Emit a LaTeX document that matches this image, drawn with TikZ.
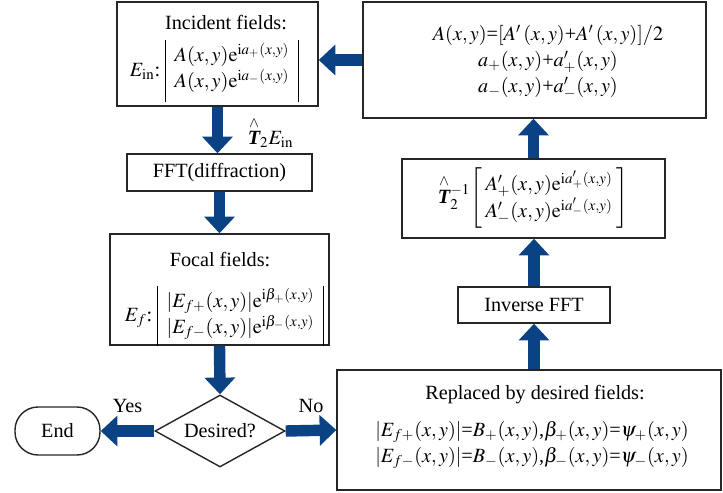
\documentclass[tikz,border=0pt]{standalone}
\usepackage{amsmath}
\usepackage{mathptmx}
\usepackage{fontspec}
\setmainfont{Liberation Serif}
\usetikzlibrary{arrows.meta,shapes.geometric}
\definecolor{azulflecha}{RGB}{10,66,132}
\tikzset{
	caja/.style={draw=black!85, line width=0.8pt, inner sep=0pt},
	texto/.style={font=\fontsize{11.5}{14.8}\selectfont, align=center, inner sep=0pt},
	flecha/.style={azulflecha, line width=6.5pt, -{Triangle[width=17pt,length=9.5pt]}},
}
\newcommand{\Tgorro}{\overset{\wedge}{\mbox{\bfseries\itshape T}}{}}
\setlength{\arrayrulewidth}{0.6pt}
\begin{document}
\begin{tikzpicture}[x=0.02cm, y=-0.02cm]
	\useasboundingbox (0,0) rectangle (723,493);
	% Cajas
		\node[caja, minimum width=4.02cm, minimum height=2.08cm] (inc) at (217.5,54) {};
		\node[caja, texto, minimum width=3.7cm, minimum height=0.74cm] (fft) at (219.5,172.5) {FFT(diffraction)};
		\node[caja, minimum width=4.38cm, minimum height=2.22cm] (focal) at (219.5,289.5) {};
		\node[caja, texto, diamond, aspect=1.8, minimum width=2.6cm, minimum height=1.44cm] (des) at (220,431) {Desired?};
		\node[caja, texto, rounded corners=0.46cm, minimum width=1.7cm, minimum height=0.96cm] (fin) at (57.5,431) {End};
		\node[caja, minimum width=7.68cm, minimum height=2.4cm] (repl) at (529,430) {};
		\node[caja, texto, minimum width=3.04cm, minimum height=0.72cm] (inv) at (534,305) {Inverse FFT};
		\node[caja, minimum width=5.26cm, minimum height=1.58cm] (tinv) at (533.5,198.5) {};
		\node[caja, minimum width=6.86cm, minimum height=2.32cm] (fase) at (534.5,60) {};

	% Textos de las cajas
		\node[texto] (inctit) at (226,23) {Incident fields:};
		\node[texto] (incmat) at (214,71) {$E_{\mathrm{in}}$:\;$\setlength{\arraycolsep}{5pt}\begin{array}{|c|}
			\rule{0pt}{12pt}A(x,y)\mathrm{e}^{\mathrm{i}a_{+}(x,y)}\\
			A(x,y)\mathrm{e}^{\mathrm{i}a_{-}(x,y)}\rule[-8pt]{0pt}{0pt}
			\end{array}$};
		\node[texto] (foctit) at (220,260) {Focal fields:};
		\node[texto] (focmat) at (224,316) {$E_{f}$:\;$\setlength{\arraycolsep}{5pt}\begin{array}{|c|}
			\rule{0pt}{12pt}|E_{f+}(x,y)|\mathrm{e}^{\mathrm{i}\beta_{+}(x,y)}\\
			|E_{f-}(x,y)|\mathrm{e}^{\mathrm{i}\beta_{-}(x,y)}\rule[-7pt]{0pt}{0pt}
			\end{array}$};
		\node[texto] (repltit) at (535,395) {Replaced by desired fields:};
		\node[texto] (replec) at (532,445) {$|E_{f+}(x,y)|$=$B_{+}(x,y)$,$\beta_{+}(x,y)$=$\psi_{+}(x,y)$\\
			$|E_{f-}(x,y)|$=$B_{-}(x,y)$,$\beta_{-}(x,y)$=$\psi_{-}(x,y)$};
		\node[texto] (tinvmat) at (533,198) {$\Tgorro_{2}^{-1}\!\left[\setlength{\arraycolsep}{2pt}\begin{array}{c}
			\rule{0pt}{12pt}A'_{+}(x,y)\mathrm{e}^{\mathrm{i}a'_{+}(x,y)}\\
			A'_{-}(x,y)\mathrm{e}^{\mathrm{i}a'_{-}(x,y)}\rule[-5pt]{0pt}{0pt}
			\end{array}\right]$};
		\node[texto] (faseec) at (548,62) {$A(x,y)$=$[A'\,(x,y)$+$A'\,(x,y)]/2$\\
			$a_{+}(x,y)$+$a'_{+}(x,y)$\\
			$a_{-}(x,y)$+$a'_{-}(x,y)$};

	% Flechas
		\draw[flecha] (inc.south) -- (inc.south |- fft.north) node[pos=0.55, right=14pt, texto, black] (prop) {$\Tgorro_{2}E_{\mathrm{in}}$};
		\draw[flecha] (fft.south) -- (focal.north);
		\draw[flecha] (focal.south) -- (des.north);
		\draw[flecha] (des.west) -- (fin.east) node[midway, above=7pt, texto, black] (si) {Yes};
		\draw[flecha] (des.east) -- (repl.west) node[midway, above=7pt, texto, black] (no) {No};
		\draw[flecha] (inv.south |- repl.north) -- (inv.south);
		\draw[flecha] (inv.north) -- (inv.north |- tinv.south);
		\draw[flecha] (tinv.north) -- (tinv.north |- fase.south);
		\draw[flecha] (fase.west) -- (fase.west -| inc.east);
\end{tikzpicture}
\end{document}
